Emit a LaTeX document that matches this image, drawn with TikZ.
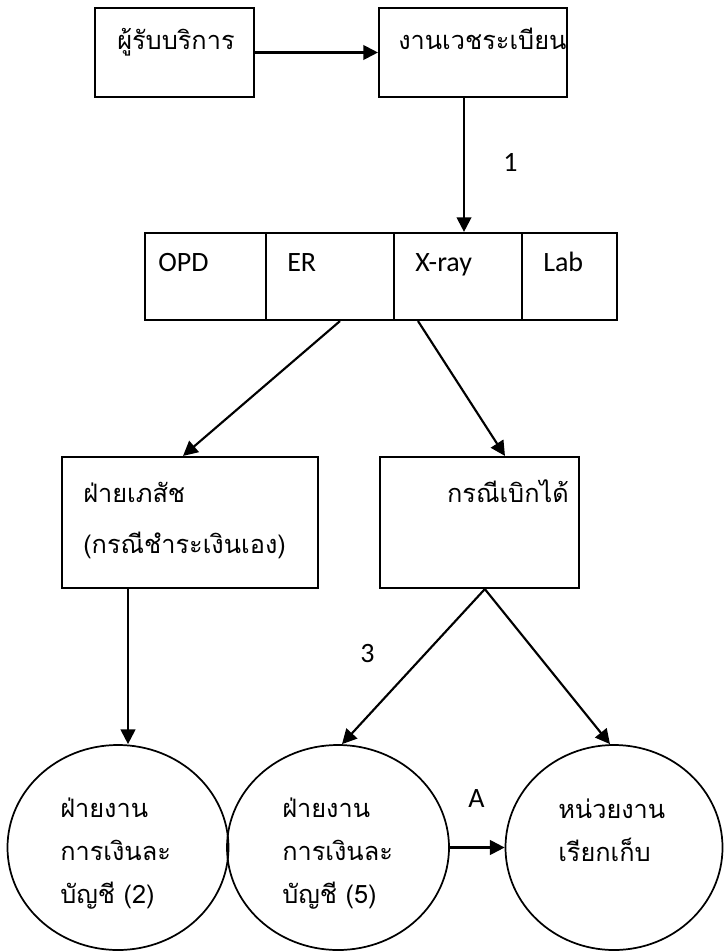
\documentclass[tikz,border=0pt]{standalone}
\usepackage{fontspec}
\setmainfont{Carlito}
\newfontfamily\thaifont[Script=Thai]{Loma}
\usetikzlibrary{arrows.meta,shapes.geometric}

\begin{document}
\begin{tikzpicture}[x=0.75pt,y=-0.75pt,
    box/.style={draw,line width=1.6pt,rectangle,inner sep=0pt},
    oval/.style={draw,line width=1.3pt,ellipse,inner sep=0pt},
    thai/.style={font=\thaifont\fontsize{19}{32}\selectfont,inner sep=0pt,align=left,anchor=base west},
    latin/.style={font=\fontsize{21}{25}\selectfont,inner sep=0pt,anchor=base west},
    flow/.style={-{Triangle[length=11pt,width=11pt]},line width=1.6pt}]
    \useasboundingbox (0,0) rectangle (724,952);
%    \draw[help lines] (0,0) grid[step=50] (724,952);
    \node[box,minimum width=119.25pt,minimum height=66.75pt](recv)   at (174.5,52.5) {};
    \node[box,minimum width=141pt,minimum height=66.75pt]   (medrec) at (473,52.5)   {};
    \node[box,minimum width=90.75pt,minimum height=65.25pt] (opd)    at (205.5,276.5) {};
    \node[box,minimum width=96pt,minimum height=65.25pt]    (er)     at (330,276.5)   {};
    \node[box,minimum width=96pt,minimum height=65.25pt]    (xray)   at (458,276.5)   {};
    \node[box,minimum width=71.25pt,minimum height=65.25pt] (lab)    at (569.5,276.5) {};
    \node[box,minimum width=192pt,minimum height=98.25pt]   (pharm)  at (190,522.5)   {};
    \node[box,minimum width=149.25pt,minimum height=98.25pt](claim)  at (479.5,522.5) {};
    \node[oval,minimum width=165.75pt,minimum height=153.75pt](fin2)    at (118,847.5) {};
    \node[oval,minimum width=166.5pt,minimum height=153.75pt] (fin5)    at (338,847.5) {};
    \node[oval,minimum width=162.75pt,minimum height=153.75pt](collect) at (614,847.5) {};

    \node[thai](recv-t)   at (117,50)  {ผู้รับบริการ};
    \node[thai](medrec-t) at (398,50)  {งานเวชระเบียน};
    \node[latin](opd-t)   at (158,272) {OPD};
    \node[latin](er-t)    at (287,272) {ER};
    \node[latin](xray-t)  at (415,272) {X-ray};
    \node[latin](lab-t)   at (543,272) {Lab};
    \node[thai](pharm-t)  at (83,553)  {ฝ่ายเภสัช\\[6pt](กรณีชำระเงินเอง)};
    \node[thai,anchor=base](claim-t) at (508,502) {กรณีเบิกได้};
    \node[thai](fin2-t)   at (60,903)  {ฝ่ายงาน\\การเงินละ\\บัญชี (2)};
    \node[thai](fin5-t)   at (282,903) {ฝ่ายงาน\\การเงินละ\\บัญชี (5)};
    \node[thai](collect-t) at (558,861) {หน่วยงาน\\เรียกเก็บ};
    \node[latin](one)     at (503,172) {1};
    \node[latin](three)   at (360,662) {3};
    \node[latin](a)       at (468,807) {A};

    \draw[flow] (recv.east) to (medrec.west);
    \draw[flow] ([xshift=-6.75pt]medrec.south) to ([xshift=-6.75pt]medrec.south |- xray.north);
    \draw[flow] ([xshift=7.5pt]er.south)   to ([xshift=-5.25pt]pharm.north);
    \draw[flow] ([xshift=-30pt]xray.south) to ([xshift=19.1pt]claim.north);
    \draw[flow] ([xshift=-46.5pt]pharm.south) to ([xshift=-46.5pt]pharm.south |- fin2.north);
    \draw[flow] ([xshift=4pt]claim.south)  to ([xshift=3pt]fin5.north);
    \draw[flow] ([xshift=4pt]claim.south)  to ([xshift=-3pt]collect.north);
    \draw[flow] (fin5.east) to (collect.west);
\end{tikzpicture}
\end{document}
